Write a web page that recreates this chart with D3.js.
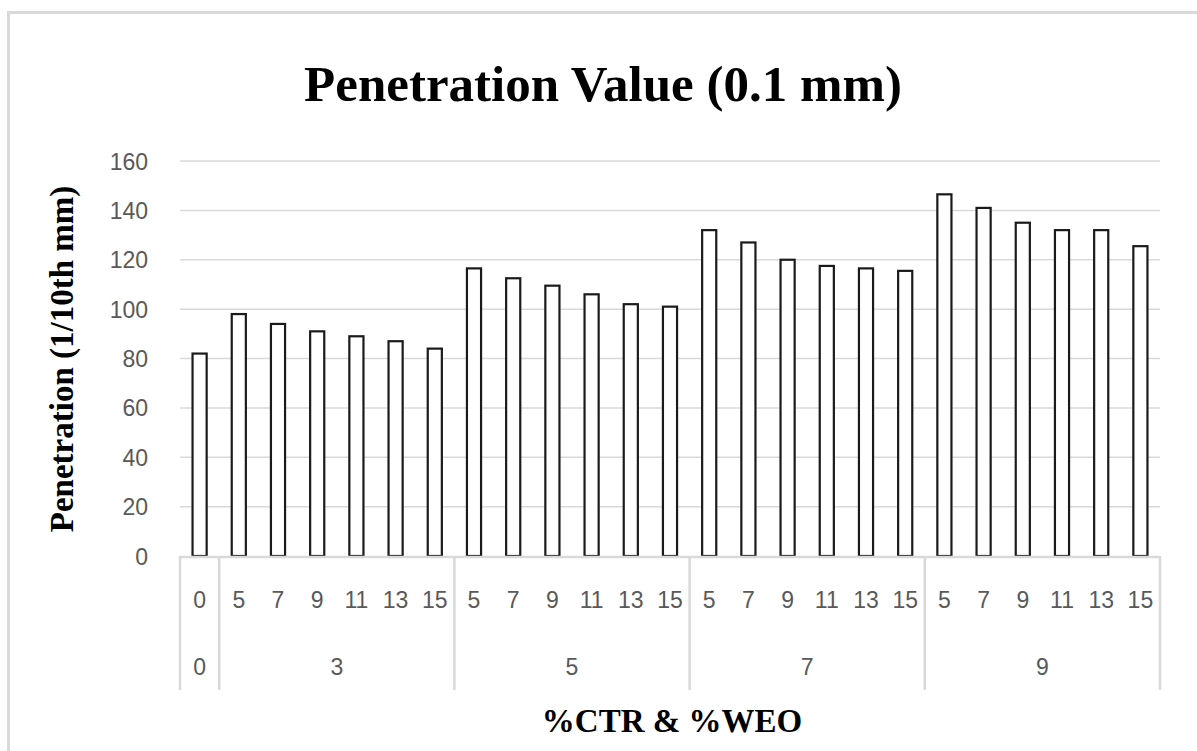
<!DOCTYPE html>
<html>
<head>
<meta charset="utf-8">
<script src="https://cdn.jsdelivr.net/npm/d3@7"></script>
<style>
  html, body { margin: 0; padding: 0; background: #fff; }
  svg { display: block; }
</style>
</head>
<body>
<script>
// ---- data ----
const groups = ["0", "3", "5", "7", "9"];           // %CTR
const weoLevels = [["0"], ["5","7","9","11","13","15"], ["5","7","9","11","13","15"], ["5","7","9","11","13","15"], ["5","7","9","11","13","15"]]; // %WEO
const penetration = [82, 98, 94, 91, 89, 87, 84,
                     116.5, 112.5, 109.5, 106, 102, 101,
                     132, 127, 120, 117.5, 116.5, 115.5,
                     146.5, 141, 135, 132, 132, 125.5];
const yTicks = [0, 20, 40, 60, 80, 100, 120, 140, 160];
const titleText = "Penetration Value (0.1 mm)";
const yTitle = "Penetration (1/10th mm)";
const xTitle = "%CTR & %WEO";

(function () {
const cats = [];
groups.forEach((g, gi) => weoLevels[gi].forEach(w => cats.push({ g, w, key: g + "-" + w })));
cats.forEach((c, i) => c.v = penetration[i]);

const W = 1197, H = 751;
const svg = d3.select("body").append("svg").attr("width", W).attr("height", H);

// outer border
svg.append("rect").attr("x", 8.5).attr("y", 12.5).attr("width", 1200).attr("height", 760)
  .attr("fill", "none").attr("stroke", "#d9d9d9").attr("stroke-width", 3);

const pLeft = 180, pRight = 1160, pTop = 161, pBottom = 556;
const x = d3.scaleBand().domain(cats.map(c => c.key)).range([pLeft, pRight]).paddingInner(0.64).paddingOuter(0.32);
const y = d3.scaleLinear().domain([0, 160]).range([pBottom, pTop]);
const step = x.step();
const tickFont = "'Liberation Sans', Arial, sans-serif";

// gridlines
svg.append("g").selectAll("line").data(yTicks.slice(1)).join("line")
  .attr("x1", pLeft).attr("x2", pRight)
  .attr("y1", d => y(d)).attr("y2", d => y(d))
  .attr("stroke", "#d9d9d9").attr("stroke-width", 1.5);

// y axis labels
const yAxis = d3.axisLeft(y).tickValues(yTicks).tickSize(0).tickPadding(0);
const ya = svg.append("g").attr("transform", `translate(148,0)`).call(yAxis);
ya.select(".domain").remove();
ya.selectAll("text").attr("font-family", tickFont)
  .attr("font-size", 23).attr("fill", "#595959").attr("dy", "0.35em");

// bars
svg.append("g").selectAll("rect").data(cats).join("rect")
  .attr("x", d => x(d.key)).attr("width", x.bandwidth())
  .attr("y", d => y(d.v)).attr("height", d => y(0) - y(d.v))
  .attr("fill", "#fff").attr("stroke", "#1a1a1a").attr("stroke-width", 2.2);

// baseline
svg.append("line").attr("x1", pLeft).attr("x2", pRight).attr("y1", pBottom + 1).attr("y2", pBottom + 1)
  .attr("stroke", "#d9d9d9").attr("stroke-width", 2.5);

// x axis level 1 labels (WEO)
const xAxis = d3.axisBottom(x).tickSize(0).tickPadding(0).tickFormat(k => cats.find(c => c.key === k).w);
const xa = svg.append("g").attr("transform", `translate(0,600)`).call(xAxis);
xa.select(".domain").remove();
xa.selectAll("text").attr("font-family", tickFont)
  .attr("font-size", 23).attr("fill", "#595959").attr("dy", "0.35em");

// group separators and group labels
let idx = 0;
const bounds = [];
const half = (step - x.bandwidth()) / 2;
groups.forEach((g, gi) => {
  const start = idx, end = idx + weoLevels[gi].length - 1;
  bounds.push({ g, x0: x(cats[start].key) - half, x1: x(cats[end].key) + x.bandwidth() + half });
  idx = end + 1;
});
const sepX = [bounds[0].x0].concat(bounds.map(b => b.x1));
svg.append("g").selectAll("line").data(sepX).join("line")
  .attr("x1", d => d).attr("x2", d => d).attr("y1", pBottom).attr("y2", 690)
  .attr("stroke", "#d9d9d9").attr("stroke-width", 2.5);
svg.append("g").selectAll("text").data(bounds).join("text")
  .attr("x", d => (d.x0 + d.x1) / 2).attr("y", 667).attr("dy", "0.35em")
  .attr("text-anchor", "middle")
  .attr("font-family", tickFont)
  .attr("font-size", 23).attr("fill", "#595959").text(d => d.g);

// titles
const serif = "'Liberation Serif', 'Times New Roman', serif";
svg.append("text").attr("x", 603).attr("y", 101).attr("text-anchor", "middle")
  .attr("font-family", serif).attr("font-weight", "bold")
  .attr("font-size", 51).attr("fill", "#000").text(titleText);

svg.append("text").attr("transform", "translate(73,359) rotate(-90)").attr("text-anchor", "middle")
  .attr("font-family", serif).attr("font-weight", "bold")
  .attr("font-size", 33).attr("fill", "#000").text(yTitle);

svg.append("text").attr("x", 672).attr("y", 732).attr("text-anchor", "middle")
  .attr("font-family", serif).attr("font-weight", "bold")
  .attr("font-size", 33).attr("fill", "#000").text(xTitle);
})();
</script>
</body>
</html>
